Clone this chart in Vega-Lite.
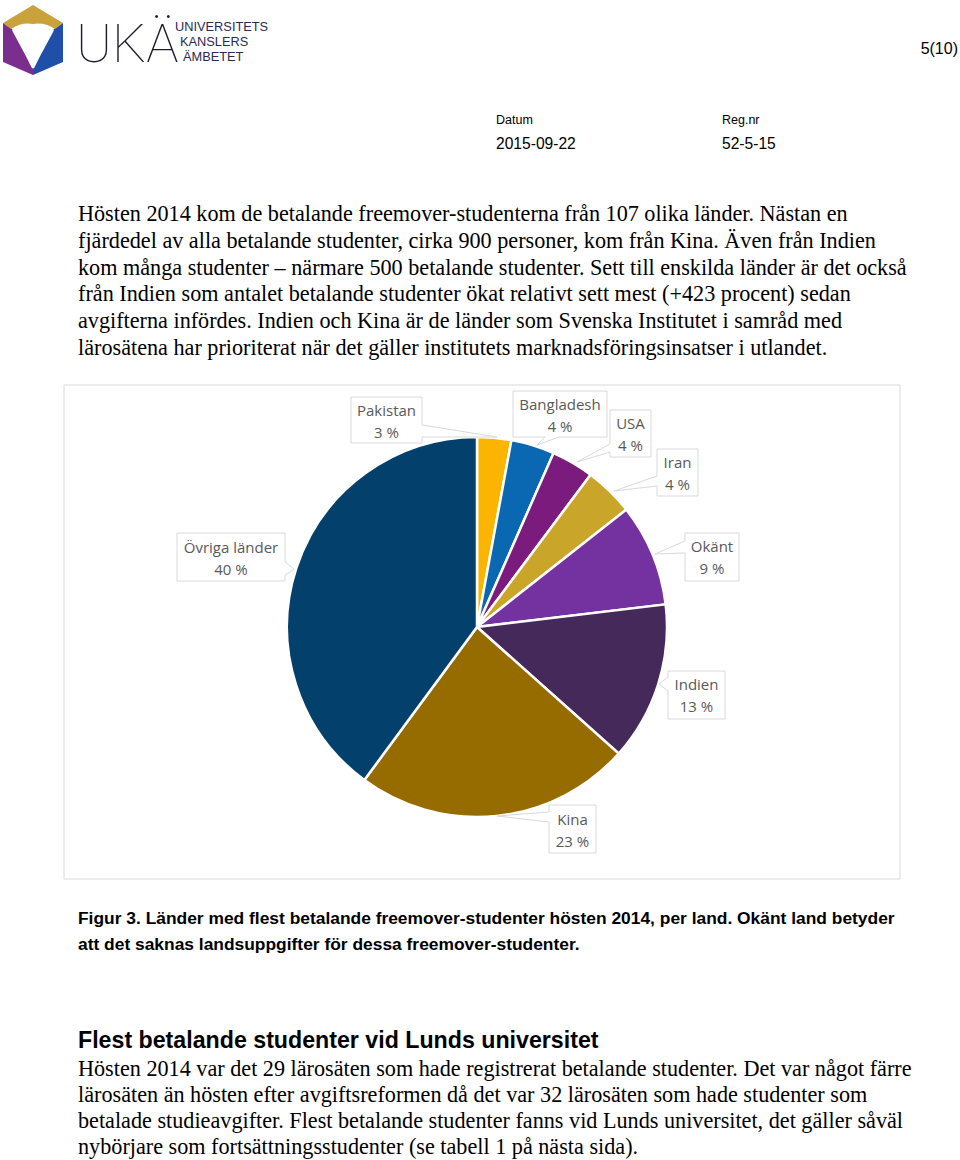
{
  "$schema": "https://vega.github.io/schema/vega-lite/v6.json",
  "width": 960,
  "height": 1160,
  "padding": 0,
  "autosize": {"type": "fit", "contains": "padding"},
  "background": "#ffffff",
  "config": {"view": {"stroke": null}},
  "data": {
    "values": [
      {"land": "Pakistan", "andel": 2.9, "procent": "3 %", "ordning": 1},
      {"land": "Bangladesh", "andel": 3.7, "procent": "4 %", "ordning": 2},
      {"land": "USA", "andel": 3.6, "procent": "4 %", "ordning": 3},
      {"land": "Iran", "andel": 4.2, "procent": "4 %", "ordning": 4},
      {"land": "Okänt", "andel": 8.7, "procent": "9 %", "ordning": 5},
      {"land": "Indien", "andel": 13.5, "procent": "13 %", "ordning": 6},
      {"land": "Kina", "andel": 23.5, "procent": "23 %", "ordning": 7},
      {"land": "Övriga länder", "andel": 39.9, "procent": "40 %", "ordning": 8}
    ]
  },
  "layer": [
    {
      "data": {"values": [{}]},
      "layer": [
        {"mark": {"type": "point", "x": 0, "y": 0, "size": 4, "opacity": 1, "filled": true, "fill": "#7a2f8f", "strokeWidth": 0, "shape": "M3,23L12,29L33,68L33,75L3,62Z"}},
        {"mark": {"type": "point", "x": 0, "y": 0, "size": 4, "opacity": 1, "filled": true, "fill": "#1f4fa8", "strokeWidth": 0, "shape": "M63,23L54,29L33,68L33,75L63,62Z"}},
        {"mark": {"type": "point", "x": 0, "y": 0, "size": 4, "opacity": 1, "filled": true, "fill": "#c9a23a", "strokeWidth": 0, "shape": "M3,23L33,5L63,23L55,29Q44,22 33,24Q22,22 11,29Z"}},
        {"mark": {"type": "point", "x": 0, "y": 0, "size": 4, "opacity": 1, "filled": false, "stroke": "#ffffff", "strokeWidth": 2, "shape": "M13,30L27,56L33,68M53,30L39,56L33,68"}},
        {"mark": {"type": "text", "x": 76, "y": 62, "text": "UKÄ", "font": "Roboto", "fontWeight": 100, "fontSize": 54, "fill": "#1b1b2e", "align": "left", "baseline": "alphabetic"}},
        {"mark": {"type": "text", "x": 175, "y": 31, "text": "UNIVERSITETS", "font": "Liberation Sans", "fontSize": 12.8, "fill": "#2a2d4f", "align": "left", "baseline": "alphabetic"}},
        {"mark": {"type": "text", "x": 180, "y": 46, "text": "KANSLERS", "font": "Liberation Sans", "fontSize": 12.8, "fill": "#2a2d4f", "align": "left", "baseline": "alphabetic"}},
        {"mark": {"type": "text", "x": 183, "y": 61, "text": "ÄMBETET", "font": "Liberation Sans", "fontSize": 12.8, "fill": "#2a2d4f", "align": "left", "baseline": "alphabetic"}},
        {"mark": {"type": "text", "x": 958, "y": 54, "text": "5(10)", "font": "Liberation Sans", "fontSize": 16, "fill": "#000000", "align": "right", "baseline": "alphabetic"}},
        {"mark": {"type": "text", "x": 496, "y": 124, "text": "Datum", "font": "Liberation Sans", "fontSize": 12.5, "fill": "#000000", "align": "left", "baseline": "alphabetic"}},
        {"mark": {"type": "text", "x": 722, "y": 124, "text": "Reg.nr", "font": "Liberation Sans", "fontSize": 12.5, "fill": "#000000", "align": "left", "baseline": "alphabetic"}},
        {"mark": {"type": "text", "x": 496, "y": 149, "text": "2015-09-22", "font": "Liberation Sans", "fontSize": 15.6, "fill": "#000000", "align": "left", "baseline": "alphabetic"}},
        {"mark": {"type": "text", "x": 722, "y": 149, "text": "52-5-15", "font": "Liberation Sans", "fontSize": 15.6, "fill": "#000000", "align": "left", "baseline": "alphabetic"}},
        {"mark": {"type": "text", "x": 78, "y": 221, "lineHeight": 26.8, "font": "Liberation Serif", "fontSize": 22.2, "fill": "#000000", "align": "left", "baseline": "alphabetic",
          "text": [
            "Hösten 2014 kom de betalande freemover-studenterna från 107 olika länder. Nästan en",
            "fjärdedel av alla betalande studenter, cirka 900 personer, kom från Kina. Även från Indien",
            "kom många studenter – närmare 500 betalande studenter. Sett till enskilda länder är det också",
            "från Indien som antalet betalande studenter ökat relativt sett mest (+423 procent) sedan",
            "avgifterna infördes. Indien och Kina är de länder som Svenska Institutet i samråd med",
            "lärosätena har prioriterat när det gäller institutets marknadsföringsinsatser i utlandet."
          ]}},
        {"mark": {"type": "rect", "x": 64, "y": 385, "x2": 900, "y2": 879, "fill": "#ffffff", "stroke": "#d9d9d9", "strokeWidth": 1}},
        {"mark": {"type": "text", "x": 78, "y": 924, "lineHeight": 26, "font": "Liberation Sans", "fontWeight": "bold", "fontSize": 17.4, "fill": "#000000", "align": "left", "baseline": "alphabetic",
          "text": [
            "Figur 3. Länder med flest betalande freemover-studenter hösten 2014, per land. Okänt land betyder",
            "att det saknas landsuppgifter för dessa freemover-studenter."
          ]}},
        {"mark": {"type": "text", "x": 78, "y": 1048, "text": "Flest betalande studenter vid Lunds universitet", "font": "Liberation Sans", "fontWeight": "bold", "fontSize": 23.2, "fill": "#000000", "align": "left", "baseline": "alphabetic"}},
        {"mark": {"type": "text", "x": 78, "y": 1076, "lineHeight": 26, "font": "Liberation Serif", "fontSize": 22.2, "fill": "#000000", "align": "left", "baseline": "alphabetic",
          "text": [
            "Hösten 2014 var det 29 lärosäten som hade registrerat betalande studenter. Det var något färre",
            "lärosäten än hösten efter avgiftsreformen då det var 32 lärosäten som hade studenter som",
            "betalade studieavgifter. Flest betalande studenter fanns vid Lunds universitet, det gäller såväl",
            "nybörjare som fortsättningsstudenter (se tabell 1 på nästa sida)."
          ]}}
      ]
    },
    {
      "mark": {"type": "arc", "x": 477, "y": 627, "outerRadius": 190, "stroke": "#ffffff", "strokeWidth": 2.5},
      "encoding": {
        "theta": {"field": "andel", "type": "quantitative", "stack": true},
        "order": {"field": "ordning", "type": "quantitative"},
        "color": {
          "field": "land",
          "type": "nominal",
          "legend": null,
          "scale": {
            "domain": ["Pakistan", "Bangladesh", "USA", "Iran", "Okänt", "Indien", "Kina", "Övriga länder"],
            "range": ["#fbb400", "#0a67b2", "#7a1b7d", "#c9a52a", "#7431a0", "#45295a", "#966b00", "#03416c"]
          }
        }
      }
    },
    {
      "transform": [{"filter": "datum.land === 'Pakistan'"}],
      "layer": [
        {"mark": {"type": "point", "x": 0, "y": 0, "size": 4, "opacity": 1, "filled": true, "fill": "#ffffff", "stroke": "#d9d9d9", "strokeWidth": 1, "shape": "M351,397H422V425L497,437L422,437V443H351Z"}},
        {"mark": {"type": "text", "x": 386.5, "y": 411, "font": "Open Sans", "fontSize": 15, "fill": "#595959", "align": "center", "baseline": "middle"}, "encoding": {"text": {"field": "land", "type": "nominal"}}},
        {"mark": {"type": "text", "x": 386.5, "y": 433, "font": "Open Sans", "fontSize": 15, "fill": "#595959", "align": "center", "baseline": "middle"}, "encoding": {"text": {"field": "procent", "type": "nominal"}}}
      ]
    },
    {
      "transform": [{"filter": "datum.land === 'Bangladesh'"}],
      "layer": [
        {"mark": {"type": "point", "x": 0, "y": 0, "size": 4, "opacity": 1, "filled": true, "fill": "#ffffff", "stroke": "#d9d9d9", "strokeWidth": 1, "shape": "M513,391H607V437H559L537,445L545,437H513Z"}},
        {"mark": {"type": "text", "x": 560, "y": 405, "font": "Open Sans", "fontSize": 15, "fill": "#595959", "align": "center", "baseline": "middle"}, "encoding": {"text": {"field": "land", "type": "nominal"}}},
        {"mark": {"type": "text", "x": 560, "y": 427, "font": "Open Sans", "fontSize": 15, "fill": "#595959", "align": "center", "baseline": "middle"}, "encoding": {"text": {"field": "procent", "type": "nominal"}}}
      ]
    },
    {
      "transform": [{"filter": "datum.land === 'USA'"}],
      "layer": [
        {"mark": {"type": "point", "x": 0, "y": 0, "size": 4, "opacity": 1, "filled": true, "fill": "#ffffff", "stroke": "#d9d9d9", "strokeWidth": 1, "shape": "M610,410H651V457H610V452L577,462L610,444Z"}},
        {"mark": {"type": "text", "x": 630.5, "y": 424, "font": "Open Sans", "fontSize": 15, "fill": "#595959", "align": "center", "baseline": "middle"}, "encoding": {"text": {"field": "land", "type": "nominal"}}},
        {"mark": {"type": "text", "x": 630.5, "y": 446, "font": "Open Sans", "fontSize": 15, "fill": "#595959", "align": "center", "baseline": "middle"}, "encoding": {"text": {"field": "procent", "type": "nominal"}}}
      ]
    },
    {
      "transform": [{"filter": "datum.land === 'Iran'"}],
      "layer": [
        {"mark": {"type": "point", "x": 0, "y": 0, "size": 4, "opacity": 1, "filled": true, "fill": "#ffffff", "stroke": "#d9d9d9", "strokeWidth": 1, "shape": "M657,449H698V496H657V486L614,491L657,476Z"}},
        {"mark": {"type": "text", "x": 677.5, "y": 463, "font": "Open Sans", "fontSize": 15, "fill": "#595959", "align": "center", "baseline": "middle"}, "encoding": {"text": {"field": "land", "type": "nominal"}}},
        {"mark": {"type": "text", "x": 677.5, "y": 485, "font": "Open Sans", "fontSize": 15, "fill": "#595959", "align": "center", "baseline": "middle"}, "encoding": {"text": {"field": "procent", "type": "nominal"}}}
      ]
    },
    {
      "transform": [{"filter": "datum.land === 'Okänt'"}],
      "layer": [
        {"mark": {"type": "point", "x": 0, "y": 0, "size": 4, "opacity": 1, "filled": true, "fill": "#ffffff", "stroke": "#d9d9d9", "strokeWidth": 1, "shape": "M685,533H739V581H685V553L655,554L685,541Z"}},
        {"mark": {"type": "text", "x": 712, "y": 547, "font": "Open Sans", "fontSize": 15, "fill": "#595959", "align": "center", "baseline": "middle"}, "encoding": {"text": {"field": "land", "type": "nominal"}}},
        {"mark": {"type": "text", "x": 712, "y": 569, "font": "Open Sans", "fontSize": 15, "fill": "#595959", "align": "center", "baseline": "middle"}, "encoding": {"text": {"field": "procent", "type": "nominal"}}}
      ]
    },
    {
      "transform": [{"filter": "datum.land === 'Indien'"}],
      "layer": [
        {"mark": {"type": "point", "x": 0, "y": 0, "size": 4, "opacity": 1, "filled": true, "fill": "#ffffff", "stroke": "#d9d9d9", "strokeWidth": 1, "shape": "M668,671H725V719H668V691L659,684L668,677Z"}},
        {"mark": {"type": "text", "x": 696.5, "y": 685, "font": "Open Sans", "fontSize": 15, "fill": "#595959", "align": "center", "baseline": "middle"}, "encoding": {"text": {"field": "land", "type": "nominal"}}},
        {"mark": {"type": "text", "x": 696.5, "y": 707, "font": "Open Sans", "fontSize": 15, "fill": "#595959", "align": "center", "baseline": "middle"}, "encoding": {"text": {"field": "procent", "type": "nominal"}}}
      ]
    },
    {
      "transform": [{"filter": "datum.land === 'Kina'"}],
      "layer": [
        {"mark": {"type": "point", "x": 0, "y": 0, "size": 4, "opacity": 1, "filled": true, "fill": "#ffffff", "stroke": "#d9d9d9", "strokeWidth": 1, "shape": "M549,805H596V853H549V822L497,816L549,812Z"}},
        {"mark": {"type": "text", "x": 572.5, "y": 820, "font": "Open Sans", "fontSize": 15, "fill": "#595959", "align": "center", "baseline": "middle"}, "encoding": {"text": {"field": "land", "type": "nominal"}}},
        {"mark": {"type": "text", "x": 572.5, "y": 842, "font": "Open Sans", "fontSize": 15, "fill": "#595959", "align": "center", "baseline": "middle"}, "encoding": {"text": {"field": "procent", "type": "nominal"}}}
      ]
    },
    {
      "transform": [{"filter": "datum.land === 'Övriga länder'"}],
      "layer": [
        {"mark": {"type": "point", "x": 0, "y": 0, "size": 4, "opacity": 1, "filled": true, "fill": "#ffffff", "stroke": "#d9d9d9", "strokeWidth": 1, "shape": "M177,533H285V562L294,569L285,575V581H177Z"}},
        {"mark": {"type": "text", "x": 231, "y": 548, "font": "Open Sans", "fontSize": 15, "fill": "#595959", "align": "center", "baseline": "middle"}, "encoding": {"text": {"field": "land", "type": "nominal"}}},
        {"mark": {"type": "text", "x": 231, "y": 570, "font": "Open Sans", "fontSize": 15, "fill": "#595959", "align": "center", "baseline": "middle"}, "encoding": {"text": {"field": "procent", "type": "nominal"}}}
      ]
    }
  ]
}
